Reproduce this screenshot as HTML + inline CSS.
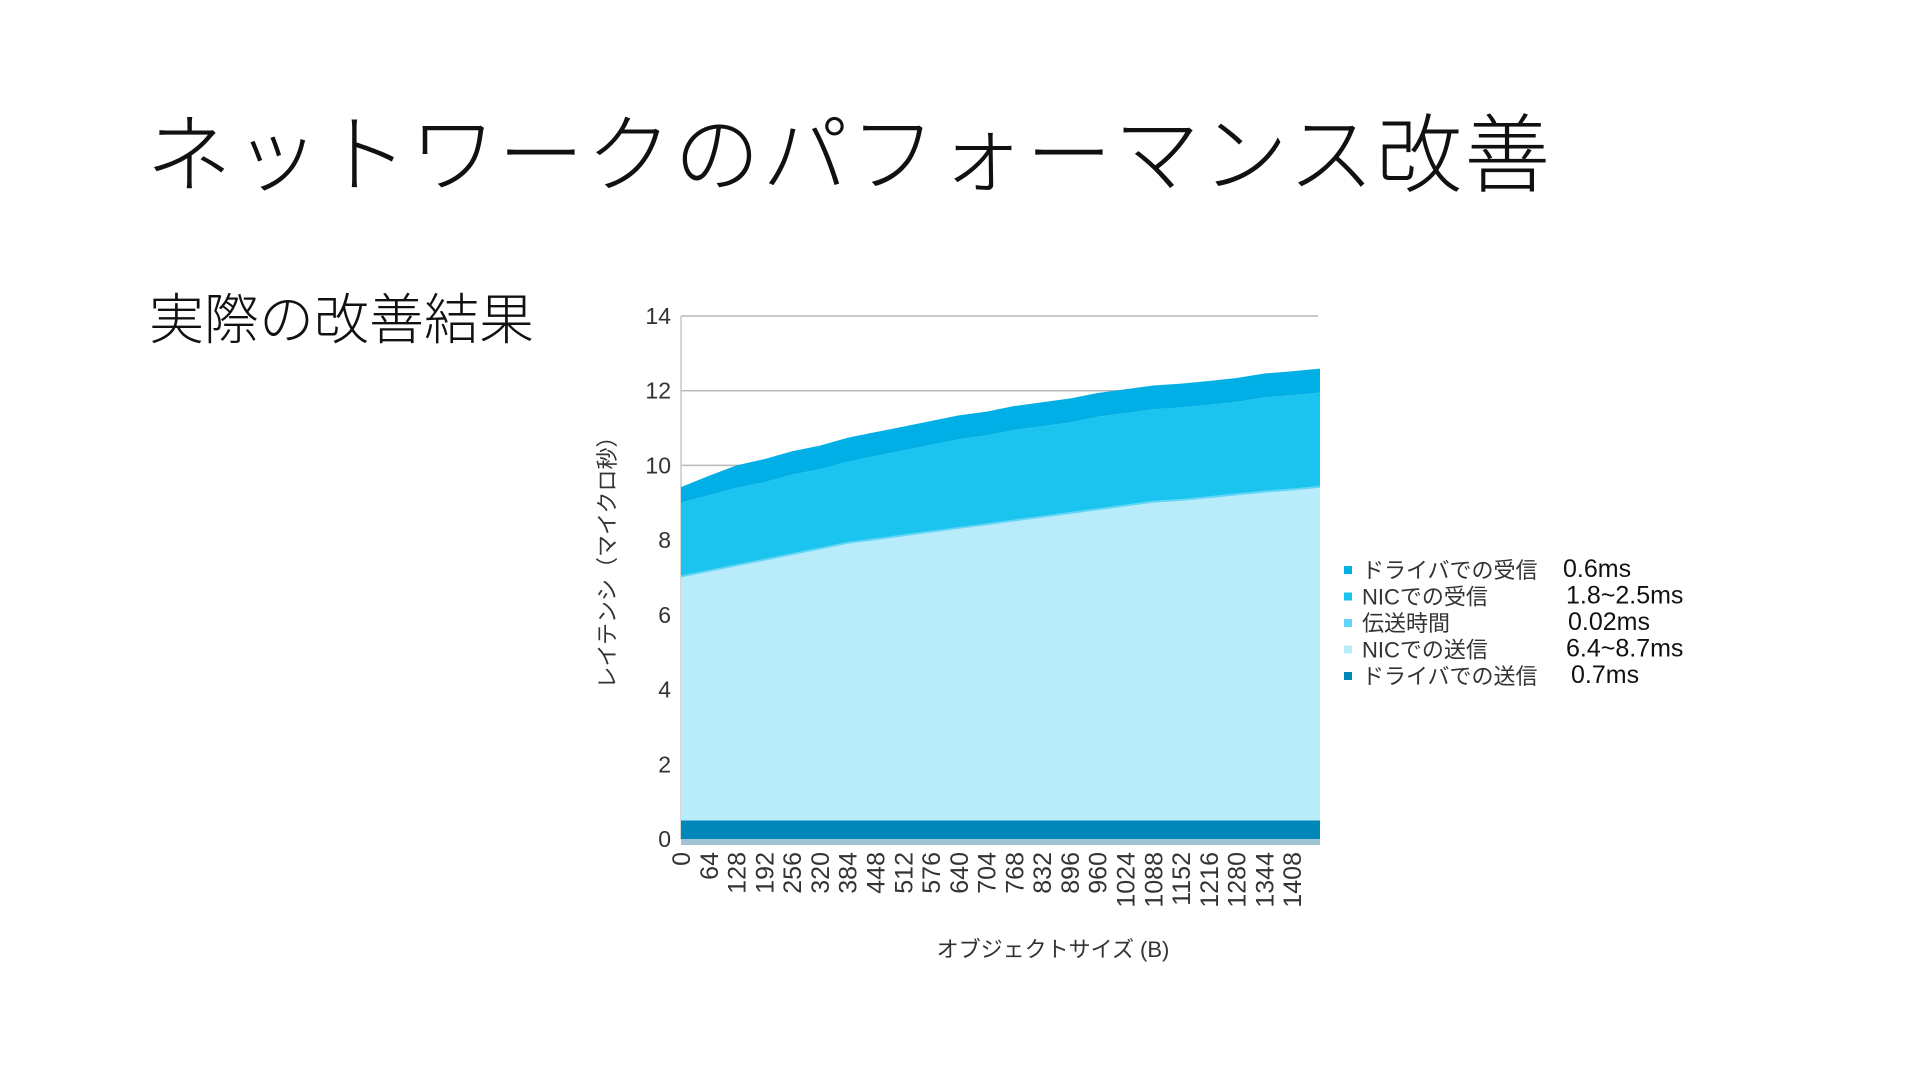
<!DOCTYPE html>
<html><head><meta charset="utf-8">
<style>
body{margin:0;width:1920px;height:1080px;background:#fff;overflow:hidden;font-family:"Liberation Sans","Noto Sans CJK JP",sans-serif;}
#title{position:absolute;left:146px;top:85px;font-size:86px;font-weight:300;color:#111;white-space:nowrap;letter-spacing:2px;font-family:"Noto Sans CJK JP",sans-serif;}
#sub{position:absolute;left:149px;top:275px;font-size:55px;font-weight:300;color:#111;font-family:"Noto Sans CJK JP",sans-serif;}
svg{position:absolute;left:0;top:0;}
</style></head><body>
<div id="title">ネットワークのパフォーマンス改善</div>
<div id="sub">実際の改善結果</div>
<svg id="chart" width="1920" height="1080"></svg>
<script>
const categories=[0,64,128,192,256,320,384,448,512,576,640,704,768,832,896,960,1024,1088,1152,1216,1280,1344,1408,1472];
const driverSend=[0.5,0.5,0.5,0.5,0.5,0.5,0.5,0.5,0.5,0.5,0.5,0.5,0.5,0.5,0.5,0.5,0.5,0.5,0.5,0.5,0.5,0.5,0.5,0.5];
const nicSend=[6.5,6.65,6.8,6.95,7.1,7.25,7.4,7.5,7.6,7.7,7.8,7.9,8.0,8.1,8.2,8.3,8.4,8.5,8.55,8.62,8.7,8.77,8.83,8.9];
const transmission=[0.05,0.05,0.05,0.05,0.05,0.05,0.05,0.05,0.05,0.05,0.05,0.05,0.05,0.05,0.05,0.05,0.05,0.05,0.05,0.05,0.05,0.05,0.05,0.05];
const nicRecv=[1.95,2.0,2.05,2.05,2.1,2.1,2.15,2.2,2.25,2.3,2.35,2.35,2.4,2.4,2.4,2.45,2.45,2.45,2.45,2.45,2.45,2.5,2.5,2.5];
const driverRecv=[0.42,0.52,0.6,0.62,0.63,0.63,0.64,0.64,0.64,0.64,0.64,0.64,0.64,0.64,0.64,0.64,0.64,0.64,0.64,0.64,0.64,0.64,0.64,0.64];
const yTicks=[0,2,4,6,8,10,12,14];
const seriesNames=["ドライバでの受信","NICでの受信","伝送時間","NICでの送信","ドライバでの送信"];
const seriesNotes=["0.6ms","1.8~2.5ms","0.02ms","6.4~8.7ms","0.7ms"];

const NS="http://www.w3.org/2000/svg";
const svg=document.getElementById('chart');
const X0=681,X1=1320,Y0=839,Y14=316;
const xs=i=>X0+(X1-X0)*i/(categories.length-1);
const ys=v=>Y0-(Y0-Y14)*v/14;
function mk(t,a,p){const e=document.createElementNS(NS,t);for(const k in a)e.setAttribute(k,a[k]);(p||svg).appendChild(e);return e;}

yTicks.forEach(v=>{
  const l=mk('line',{x1:X0,x2:1318,y1:ys(v),y2:ys(v),stroke:'#b8b8b8','stroke-width':1.5});
  
  
  const t=mk('text',{x:671,y:ys(v)+8,'text-anchor':'end','font-size':23,fill:'#333'});
  t.textContent=v;
  
  
});
mk('line',{x1:X0,x2:X0,y1:Y14,y2:Y0,stroke:'#c8c8c8','stroke-width':1.5});

const stack=[driverSend,nicSend,transmission,nicRecv,driverRecv];
const colors=['#0087b9','#b9ecfb','#62d4f5','#1bc3ef','#00afe6'];
const names=['area-driver-send','area-nic-send','area-transmission','area-nic-recv','area-driver-recv'];
let base=categories.map(()=>0);
stack.forEach((s,k)=>{
  const top=base.map((b,i)=>b+s[i]);
  let d='M'+categories.map((c,i)=>xs(i)+','+ys(top[i])).join(' L');
  for(let i=categories.length-1;i>=0;i--)d+=' L'+xs(i)+','+ys(base[i]);
  d+='Z';
  const p=mk('path',{d:d,fill:colors[k]});
  
  
  base=top;
});
mk('rect',{x:X0,y:Y0,width:X1-X0,height:6,fill:'#9fc3d3'});

categories.forEach((c,i)=>{
  if(i>=categories.length-1)return;
  const x=xs(i)+9,y=Y0+13;
  const t=mk('text',{x:x,y:y,transform:`rotate(-90 ${x} ${y})`,'text-anchor':'end','font-size':25,fill:'#333'});
  t.textContent=c;
  
  
});
const xt=mk('text',{x:1053,y:957,'text-anchor':'middle','font-size':22,fill:'#333'});
xt.textContent='オブジェクトサイズ (B)';


const yt=mk('text',{x:0,y:0,transform:'translate(615 557) rotate(-90)','text-anchor':'middle','font-size':22,fill:'#333'});
yt.textContent='レイテンシ（マイクロ秒）';



const legColors=['#00afe6','#1bc3ef','#62d4f5','#b9ecfb','#0087b9'];
const noteX=[1563,1566,1568,1566,1571];
seriesNames.forEach((n,k)=>{
  const y=570+k*26.5;
  const g=mk('g',{});
  
  
  mk('rect',{x:1344,y:y-4,width:8,height:8,fill:legColors[k]},g);
  const t=mk('text',{x:1362,y:y+8,'font-size':22,fill:'#333'},g);t.textContent=n;
  const v=mk('text',{x:noteX[k],y:y+7,'font-size':25,fill:'#111'},g);v.textContent=seriesNotes[k];
});
</script>
</body></html>
